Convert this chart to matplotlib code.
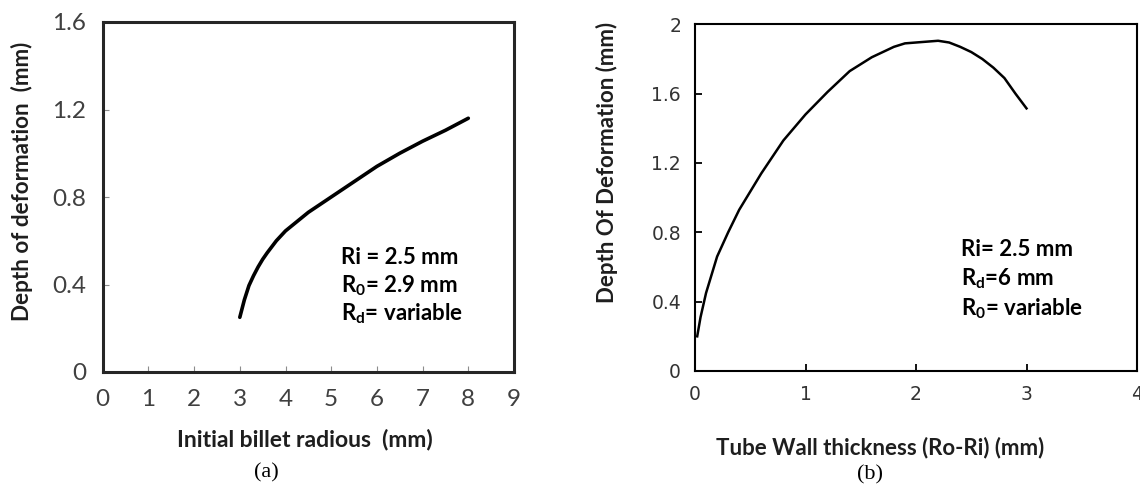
import matplotlib
matplotlib.use("Agg")
import matplotlib.pyplot as plt

# (a) depth of deformation vs initial billet radius
a_x = [3.0, 3.1, 3.2, 3.3, 3.4, 3.5, 3.6, 3.8, 4.0, 4.5, 5.0, 5.5, 6.0, 6.5, 7.0, 7.5, 8.0]
a_y = [0.25, 0.33, 0.395, 0.44, 0.48, 0.515, 0.545, 0.60, 0.645, 0.73, 0.80, 0.87, 0.94, 1.0, 1.055, 1.105, 1.16]

# (b) depth of deformation vs tube wall thickness
b_x = [0.02, 0.05, 0.1, 0.2, 0.3, 0.4, 0.6, 0.8, 1.0, 1.2, 1.4, 1.6, 1.8, 1.9,
       2.0, 2.2, 2.3, 2.4, 2.5, 2.6, 2.7, 2.8, 2.9, 3.0]
b_y = [0.2, 0.31, 0.45, 0.66, 0.80, 0.93, 1.14, 1.33, 1.48, 1.61, 1.73, 1.81, 1.87, 1.89,
       1.895, 1.905, 1.895, 1.87, 1.84, 1.80, 1.75, 1.69, 1.60, 1.515]

a_xticks = list(range(0, 10))
a_yticks = [0, 0.4, 0.8, 1.2, 1.6]
b_xticks = [0, 1, 2, 3, 4]
b_yticks = [0, 0.4, 0.8, 1.2, 1.6, 2]

a_notes = ["Ri = 2.5 mm", r"R$_0$= 2.9 mm", r"R$_d$= variable"]
b_notes = ["Ri= 2.5 mm", r"R$_d$=6 mm", r"R$_0$= variable"]

plt.rcParams['mathtext.fontset'] = 'custom'
plt.rcParams['mathtext.rm'] = 'Lato:bold'
plt.rcParams['mathtext.it'] = 'Lato:bold'
plt.rcParams['mathtext.bf'] = 'Lato:bold'

W, H = 1140, 484
fig = plt.figure(figsize=(W / 100, H / 100), dpi=100)

def px(x, y):
    return x / W, 1 - y / H

def fmt(v):
    return "%g" % v

# ---- panel (a)
ax1 = fig.add_axes([102.7 / W, 1 - 372 / H, (514 - 102.7) / W, (372 - 22) / H])
ax1.plot(a_x, a_y, color='black', lw=2.6, solid_capstyle='round')
ax1.set_xlim(0, 9)
ax1.set_ylim(0, 1.6)
ax1.set_xticks(a_xticks)
ax1.set_yticks(a_yticks)
ax1.set_xticklabels([fmt(v) for v in a_xticks], family='Lato', fontsize=17.5, color='#404040')
ax1.set_yticklabels([fmt(v) for v in a_yticks], family='Lato', fontsize=17.5, color='#404040')
ax1.tick_params(direction='in', length=4, width=0.8, color='#8c8c8c', pad=12)
for s in ax1.spines.values():
    s.set_linewidth(2.2)
    s.set_color('#262626')
for i, t in enumerate(a_notes):
    ax1.text(5.22, 0.525 - i * 0.13, t, family='Lato', weight='bold', fontsize=16,
             va='center', ha='left')

fig.text(*px(305, 440), "Initial billet radious  (mm)", family='Lato', weight='bold',
         fontsize=16.5, ha='center', va='center', color='#1e1e1e')
fig.text(*px(22, 181), "Depth of deformation  (mm)", family='Lato', weight='bold',
         fontsize=16.2, ha='center', va='center', rotation=90, color='#1e1e1e')
fig.text(*px(266, 473), "(a)", family='Liberation Serif', fontsize=16,
         ha='center', va='center')

# ---- panel (b)
ax2 = fig.add_axes([695 / W, 1 - 371 / H, (1137 - 695) / W, (371 - 24.3) / H])
ax2.plot(b_x, b_y, color='black', lw=1.8)
ax2.set_xlim(0, 4)
ax2.set_ylim(0, 2)
ax2.set_xticks(b_xticks)
ax2.set_yticks(b_yticks)
ax2.set_xticklabels([fmt(v) for v in b_xticks], family='DejaVu Sans', fontsize=13.5, color='#333333')
ax2.set_yticklabels([fmt(v) for v in b_yticks], family='DejaVu Sans', fontsize=13.5, color='#333333')
ax2.tick_params(direction='in', length=5, width=1.3, color='black', pad=10)
for s in ax2.spines.values():
    s.set_linewidth(1.5)
    s.set_color('black')
for i, t in enumerate(b_notes):
    ax2.text(2.41, 0.70 - i * 0.17, t, family='Lato', weight='bold', fontsize=16,
             va='center', ha='left')

fig.text(*px(880, 448), "Tube Wall thickness (Ro-Ri) (mm)", family='Lato', weight='bold',
         fontsize=16, ha='center', va='center', color='#1e1e1e')
fig.text(*px(607, 162), "Depth Of Deformation (mm)", family='Lato', weight='bold',
         fontsize=16, ha='center', va='center', rotation=90, color='#1e1e1e')
fig.text(*px(870, 475), "(b)", family='Liberation Serif', fontsize=16,
         ha='center', va='center')

fig.savefig("out.png", dpi=100, facecolor='white')
